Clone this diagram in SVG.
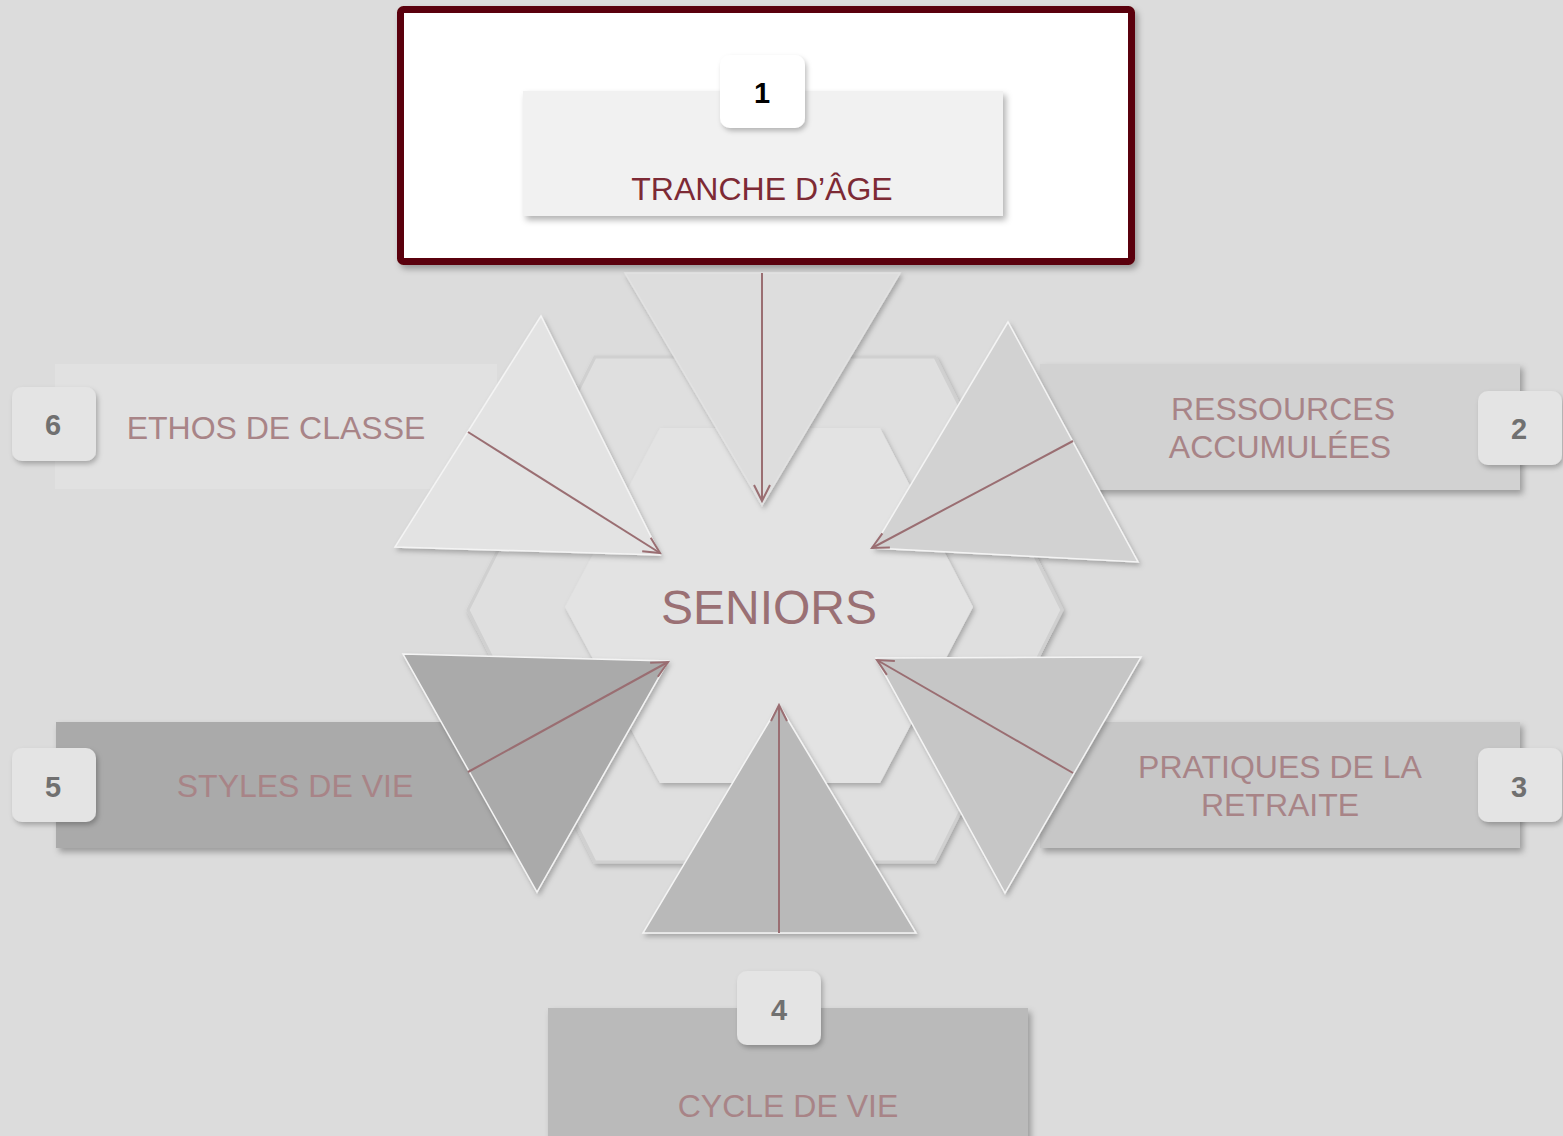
<svg xmlns="http://www.w3.org/2000/svg" width="1563" height="1136" viewBox="0 0 1563 1136">
<defs>
<filter id="sh" x="-10%" y="-10%" width="130%" height="140%">
<feDropShadow dx="3" dy="4" stdDeviation="3" flood-color="#000" flood-opacity="0.3"/>
</filter>
<filter id="shs" x="-10%" y="-10%" width="130%" height="130%">
<feDropShadow dx="2" dy="3" stdDeviation="2.5" flood-color="#000" flood-opacity="0.25"/>
</filter>
<marker id="ah" viewBox="0 0 20 20" refX="18" refY="10" markerWidth="20" markerHeight="20" markerUnits="userSpaceOnUse" orient="auto">
<path d="M2,2 L18,10 L2,18" fill="none" stroke="#9a6e72" stroke-width="2"/>
</marker>
<style>
.lbl{font-family:"Liberation Sans",Arial,sans-serif;font-size:32px;fill:#a88487;text-anchor:middle}
.num{font-family:"Liberation Sans",Arial,sans-serif;font-size:29px;font-weight:bold;fill:#707070;text-anchor:middle}
.badge{fill:#e4e4e4;filter:url(#shs)}
.box{filter:url(#sh)}
.tri{stroke:#f4f4f4;stroke-width:1.5;filter:url(#shs)}
.arr{stroke:#9a6e72;stroke-width:2;fill:none;marker-end:url(#ah)}
</style>
</defs>
<rect width="1563" height="1136" fill="#dcdcdc"/>

<g id="hexagons">
<polygon points="468,610 595,357 935,357 1062,610 935,862 595,862" fill="#dfdfdf" stroke="#d0d0d0" stroke-width="3" filter="url(#shs)"/>
<polygon points="565,607 660,428 880,428 973,607 880,783 660,783" fill="#e3e3e3" filter="url(#shs)"/>
</g>

<g id="node-center">
<text x="769" y="624" style="font-family:'Liberation Sans',Arial,sans-serif;font-size:48px;fill:#9a7074;text-anchor:middle">SENIORS</text>
</g>

<g id="node-1">
<rect x="400.5" y="9.5" width="731" height="252" rx="3" fill="#ffffff" stroke="#5a0008" stroke-width="7" filter="url(#sh)"/>
<rect x="523" y="91" width="480" height="125" fill="#f1f1f1" filter="url(#sh)"/>
<rect x="720" y="55" width="85" height="73" rx="10" fill="#ffffff" filter="url(#shs)"/>
<text x="762" y="103" class="num" style="fill:#000">1</text>
<text x="762" y="200" class="lbl" style="fill:#7d2a35">TRANCHE D’ÂGE</text>
</g>

<g id="node-6">
<rect x="55" y="364" width="442" height="125" fill="#e1e1e1"/>
<rect x="12" y="387" width="84" height="74" rx="10" class="badge"/>
<text x="53" y="435" class="num">6</text>
<text x="276" y="439" class="lbl">ETHOS DE CLASSE</text>
</g>

<g id="node-2">
<rect x="1040" y="364" width="480" height="126" fill="#d2d2d2" class="box"/>
<rect x="1478" y="391" width="84" height="74" rx="10" class="badge"/>
<text x="1519" y="439" class="num">2</text>
<text x="1283" y="420" class="lbl">RESSOURCES</text>
<text x="1280" y="458" class="lbl">ACCUMULÉES</text>
</g>

<g id="node-5">
<rect x="56" y="722" width="470" height="126" fill="#aaaaaa" class="box"/>
<rect x="12" y="748" width="84" height="74" rx="10" class="badge"/>
<text x="53" y="797" class="num">5</text>
<text x="295" y="797" class="lbl">STYLES DE VIE</text>
</g>

<g id="node-3">
<rect x="1040" y="722" width="480" height="126" fill="#c7c7c7" class="box"/>
<rect x="1478" y="748" width="84" height="74" rx="10" class="badge"/>
<text x="1519" y="797" class="num">3</text>
<text x="1280" y="778" class="lbl">PRATIQUES DE LA</text>
<text x="1280" y="816" class="lbl">RETRAITE</text>
</g>

<g id="node-4">
<rect x="548" y="1008" width="480" height="140" fill="#bababa" class="box"/>
<rect x="737" y="971" width="84" height="74" rx="10" class="badge"/>
<text x="779" y="1020" class="num">4</text>
<text x="788" y="1117" class="lbl">CYCLE DE VIE</text>
</g>

<g id="triangles">
<polygon class="tri" points="625,273 900,273 762,505" fill="#dddddd" style="stroke:#e2e2e2"/>
<polygon class="tri" points="541,316 395,547 660,555" fill="#e3e3e3"/>
<polygon class="tri" points="1008,322 873,548 1138,562" fill="#d2d2d2"/>
<polygon class="tri" points="876,658 1141,657 1005,893" fill="#c6c6c6"/>
<polygon class="tri" points="779,705 643,933 916,933" fill="#b9b9b9"/>
<polygon class="tri" points="403,654 668,661 537,892" fill="#aaaaaa"/>
</g>

<g id="connectors">
<line class="arr" x1="762" y1="273" x2="762" y2="501"/>
<line class="arr" x1="468" y1="432" x2="660" y2="553"/>
<line class="arr" x1="1073" y1="441" x2="872" y2="548"/>
<line class="arr" x1="1073" y1="773" x2="877" y2="660"/>
<line class="arr" x1="779" y1="933" x2="779" y2="705"/>
<line class="arr" x1="468" y1="772" x2="668" y2="662"/>
</g>
</svg>
